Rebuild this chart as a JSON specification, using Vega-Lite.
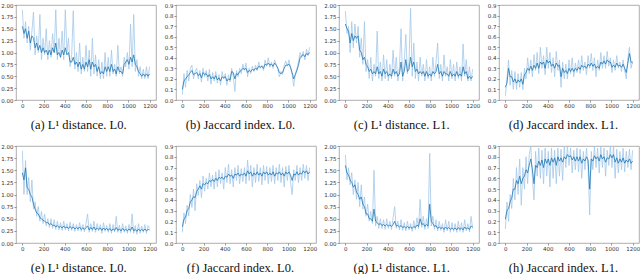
{
"$schema":"https://vega.github.io/schema/vega-lite/v6.json",
"padding":{"left":0,"top":2,"right":1,"bottom":0},
"background":"white",
"spacing":11,
"config":{
 "view":{"stroke":"#9a9a9a","strokeWidth":0.8},
 "axis":{"grid":false,"domain":false,"labelFont":"DejaVu Sans","labelFontSize":5.5,"labelColor":"#333","tickSize":2,"tickColor":"#555","tickWidth":0.6,"labelPadding":1,"title":null},
 "axisX":{"format":"d"},
 "title":{"font":"Liberation Serif","fontSize":12.5,"fontWeight":"normal","orient":"bottom","color":"#111","offset":10,"frame":"bounds","anchor":"middle"},
 "line":{"strokeWidth":0.8,"clip":true},
 "concat":{"spacing":5}
},
"datasets":{
"a":[{"x":0,"r":1.9,"s":1.55},{"x":15,"r":1.3,"s":1.4},{"x":30,"r":1.65,"s":1.5},{"x":45,"r":1.2,"s":1.3},{"x":60,"r":1.55,"s":1.45},{"x":75,"r":1.05,"s":1.2},{"x":90,"r":1.45,"s":1.35},{"x":105,"r":1.85,"s":1.3},{"x":120,"r":0.95,"s":1.1},{"x":135,"r":1.35,"s":1.2},{"x":150,"r":1.0,"s":1.05},{"x":165,"r":1.8,"s":1.15},{"x":180,"r":0.85,"s":1.0},{"x":195,"r":1.3,"s":1.1},{"x":210,"r":0.95,"s":1.0},{"x":225,"r":1.5,"s":1.05},{"x":240,"r":0.85,"s":0.95},{"x":255,"r":1.25,"s":1.05},{"x":270,"r":0.9,"s":0.95},{"x":285,"r":1.4,"s":1.1},{"x":300,"r":1.0,"s":1.0},{"x":315,"r":1.9,"s":1.2},{"x":330,"r":0.85,"s":0.95},{"x":345,"r":1.3,"s":1.0},{"x":360,"r":0.9,"s":0.9},{"x":375,"r":1.45,"s":1.05},{"x":390,"r":0.85,"s":0.95},{"x":405,"r":1.9,"s":1.1},{"x":420,"r":1.0,"s":0.95},{"x":435,"r":1.3,"s":1.0},{"x":450,"r":0.7,"s":0.8},{"x":465,"r":0.95,"s":0.8},{"x":480,"r":1.88,"s":0.9},{"x":495,"r":0.65,"s":0.75},{"x":510,"r":1.0,"s":0.8},{"x":525,"r":0.6,"s":0.7},{"x":540,"r":1.2,"s":0.8},{"x":555,"r":0.55,"s":0.65},{"x":570,"r":0.9,"s":0.75},{"x":585,"r":0.6,"s":0.65},{"x":600,"r":1.15,"s":0.8},{"x":615,"r":0.6,"s":0.7},{"x":630,"r":1.05,"s":0.85},{"x":645,"r":0.5,"s":0.65},{"x":660,"r":1.3,"s":0.8},{"x":675,"r":0.55,"s":0.7},{"x":690,"r":0.95,"s":0.75},{"x":705,"r":0.5,"s":0.6},{"x":720,"r":0.85,"s":0.7},{"x":735,"r":0.45,"s":0.55},{"x":750,"r":0.8,"s":0.6},{"x":765,"r":0.45,"s":0.55},{"x":780,"r":1.0,"s":0.7},{"x":795,"r":0.5,"s":0.6},{"x":810,"r":0.9,"s":0.7},{"x":825,"r":0.5,"s":0.6},{"x":840,"r":1.05,"s":0.75},{"x":855,"r":0.55,"s":0.6},{"x":870,"r":0.75,"s":0.65},{"x":885,"r":0.5,"s":0.55},{"x":900,"r":1.15,"s":0.7},{"x":915,"r":0.55,"s":0.6},{"x":930,"r":0.7,"s":0.6},{"x":945,"r":0.5,"s":0.55},{"x":960,"r":0.9,"s":0.75},{"x":975,"r":0.7,"s":0.8},{"x":990,"r":1.0,"s":0.85},{"x":1005,"r":0.65,"s":0.75},{"x":1020,"r":1.6,"s":0.9},{"x":1035,"r":0.7,"s":0.8},{"x":1050,"r":1.8,"s":0.95},{"x":1065,"r":0.6,"s":0.75},{"x":1080,"r":0.85,"s":0.7},{"x":1095,"r":0.5,"s":0.6},{"x":1110,"r":0.7,"s":0.55},{"x":1125,"r":0.45,"s":0.5},{"x":1140,"r":0.65,"s":0.55},{"x":1155,"r":0.45,"s":0.5},{"x":1170,"r":0.7,"s":0.55},{"x":1185,"r":0.45,"s":0.5},{"x":1200,"r":0.7,"s":0.55}],
"b":[{"x":0,"r":0.05,"s":0.1},{"x":15,"r":0.25,"s":0.18},{"x":30,"r":0.12,"s":0.2},{"x":45,"r":0.28,"s":0.22},{"x":60,"r":0.18,"s":0.24},{"x":75,"r":0.3,"s":0.26},{"x":90,"r":0.33,"s":0.28},{"x":105,"r":0.2,"s":0.24},{"x":120,"r":0.27,"s":0.25},{"x":135,"r":0.3,"s":0.26},{"x":150,"r":0.2,"s":0.23},{"x":165,"r":0.28,"s":0.25},{"x":180,"r":0.17,"s":0.21},{"x":195,"r":0.3,"s":0.26},{"x":210,"r":0.22,"s":0.24},{"x":225,"r":0.28,"s":0.25},{"x":240,"r":0.18,"s":0.22},{"x":255,"r":0.29,"s":0.24},{"x":270,"r":0.15,"s":0.2},{"x":285,"r":0.26,"s":0.22},{"x":300,"r":0.18,"s":0.2},{"x":315,"r":0.27,"s":0.23},{"x":330,"r":0.16,"s":0.19},{"x":345,"r":0.24,"s":0.21},{"x":360,"r":0.14,"s":0.18},{"x":375,"r":0.27,"s":0.22},{"x":390,"r":0.2,"s":0.21},{"x":405,"r":0.25,"s":0.22},{"x":420,"r":0.14,"s":0.18},{"x":435,"r":0.24,"s":0.2},{"x":450,"r":0.17,"s":0.19},{"x":465,"r":0.3,"s":0.27},{"x":480,"r":0.22,"s":0.26},{"x":495,"r":0.08,"s":0.2},{"x":510,"r":0.28,"s":0.25},{"x":525,"r":0.22,"s":0.24},{"x":540,"r":0.3,"s":0.27},{"x":555,"r":0.25,"s":0.28},{"x":570,"r":0.34,"s":0.3},{"x":585,"r":0.28,"s":0.29},{"x":600,"r":0.35,"s":0.3},{"x":615,"r":0.22,"s":0.26},{"x":630,"r":0.3,"s":0.28},{"x":645,"r":0.25,"s":0.27},{"x":660,"r":0.32,"s":0.29},{"x":675,"r":0.27,"s":0.28},{"x":690,"r":0.33,"s":0.3},{"x":705,"r":0.28,"s":0.29},{"x":720,"r":0.36,"s":0.32},{"x":735,"r":0.3,"s":0.31},{"x":750,"r":0.33,"s":0.32},{"x":765,"r":0.28,"s":0.3},{"x":780,"r":0.38,"s":0.34},{"x":795,"r":0.32,"s":0.33},{"x":810,"r":0.4,"s":0.35},{"x":825,"r":0.31,"s":0.33},{"x":840,"r":0.36,"s":0.34},{"x":855,"r":0.3,"s":0.32},{"x":870,"r":0.38,"s":0.35},{"x":885,"r":0.33,"s":0.33},{"x":900,"r":0.3,"s":0.3},{"x":915,"r":0.22,"s":0.26},{"x":930,"r":0.27,"s":0.25},{"x":945,"r":0.24,"s":0.26},{"x":960,"r":0.33,"s":0.3},{"x":975,"r":0.37,"s":0.33},{"x":990,"r":0.32,"s":0.33},{"x":1005,"r":0.38,"s":0.34},{"x":1020,"r":0.3,"s":0.31},{"x":1035,"r":0.24,"s":0.26},{"x":1050,"r":0.13,"s":0.2},{"x":1065,"r":0.25,"s":0.24},{"x":1080,"r":0.3,"s":0.28},{"x":1095,"r":0.36,"s":0.33},{"x":1110,"r":0.45,"s":0.4},{"x":1125,"r":0.4,"s":0.42},{"x":1140,"r":0.46,"s":0.43},{"x":1155,"r":0.38,"s":0.41},{"x":1170,"r":0.48,"s":0.44},{"x":1185,"r":0.42,"s":0.43},{"x":1200,"r":0.5,"s":0.45}],
"c":[{"x":0,"r":1.87,"s":1.6},{"x":15,"r":1.4,"s":1.5},{"x":30,"r":1.55,"s":1.45},{"x":45,"r":1.0,"s":1.2},{"x":60,"r":1.65,"s":1.4},{"x":75,"r":1.1,"s":1.25},{"x":90,"r":1.6,"s":1.35},{"x":105,"r":1.2,"s":1.3},{"x":120,"r":1.55,"s":1.35},{"x":135,"r":0.9,"s":1.05},{"x":150,"r":1.3,"s":1.0},{"x":165,"r":0.75,"s":0.85},{"x":180,"r":1.65,"s":0.9},{"x":195,"r":0.6,"s":0.75},{"x":210,"r":0.85,"s":0.7},{"x":225,"r":0.45,"s":0.6},{"x":240,"r":0.9,"s":0.65},{"x":255,"r":0.4,"s":0.55},{"x":270,"r":0.75,"s":0.6},{"x":285,"r":0.5,"s":0.55},{"x":300,"r":1.45,"s":0.7},{"x":315,"r":0.45,"s":0.55},{"x":330,"r":0.8,"s":0.6},{"x":345,"r":0.4,"s":0.5},{"x":360,"r":0.95,"s":0.65},{"x":375,"r":0.45,"s":0.55},{"x":390,"r":0.85,"s":0.6},{"x":405,"r":0.4,"s":0.5},{"x":420,"r":0.75,"s":0.55},{"x":435,"r":0.45,"s":0.5},{"x":450,"r":1.05,"s":0.65},{"x":465,"r":0.5,"s":0.55},{"x":480,"r":0.9,"s":0.6},{"x":495,"r":0.4,"s":0.5},{"x":510,"r":0.7,"s":0.55},{"x":525,"r":1.5,"s":0.8},{"x":540,"r":0.4,"s":0.5},{"x":555,"r":0.8,"s":0.6},{"x":570,"r":1.38,"s":0.85},{"x":585,"r":0.55,"s":0.6},{"x":600,"r":0.8,"s":0.65},{"x":615,"r":1.93,"s":0.9},{"x":630,"r":0.5,"s":0.7},{"x":645,"r":1.2,"s":0.8},{"x":660,"r":0.45,"s":0.6},{"x":675,"r":0.8,"s":0.65},{"x":690,"r":0.4,"s":0.55},{"x":705,"r":0.9,"s":0.6},{"x":720,"r":0.5,"s":0.55},{"x":735,"r":0.75,"s":0.6},{"x":750,"r":0.4,"s":0.5},{"x":765,"r":0.85,"s":0.6},{"x":780,"r":0.45,"s":0.5},{"x":795,"r":0.7,"s":0.55},{"x":810,"r":0.4,"s":0.5},{"x":825,"r":0.9,"s":0.6},{"x":840,"r":0.5,"s":0.55},{"x":855,"r":0.8,"s":0.6},{"x":870,"r":1.2,"s":0.75},{"x":885,"r":0.45,"s":0.55},{"x":900,"r":0.75,"s":0.6},{"x":915,"r":0.4,"s":0.5},{"x":930,"r":0.95,"s":0.6},{"x":945,"r":0.5,"s":0.55},{"x":960,"r":0.7,"s":0.55},{"x":975,"r":0.4,"s":0.5},{"x":990,"r":0.85,"s":0.6},{"x":1005,"r":0.45,"s":0.5},{"x":1020,"r":0.75,"s":0.55},{"x":1035,"r":0.4,"s":0.5},{"x":1050,"r":0.8,"s":0.6},{"x":1065,"r":0.45,"s":0.5},{"x":1080,"r":0.7,"s":0.55},{"x":1095,"r":0.4,"s":0.5},{"x":1110,"r":1.18,"s":0.7},{"x":1125,"r":0.5,"s":0.55},{"x":1140,"r":0.85,"s":0.6},{"x":1155,"r":0.4,"s":0.45},{"x":1170,"r":0.7,"s":0.5},{"x":1185,"r":0.4,"s":0.45},{"x":1200,"r":0.65,"s":0.5}],
"d":[{"x":0,"r":0.04,"s":0.12},{"x":15,"r":0.2,"s":0.16},{"x":30,"r":0.38,"s":0.3},{"x":45,"r":0.14,"s":0.22},{"x":60,"r":0.28,"s":0.22},{"x":75,"r":0.1,"s":0.17},{"x":90,"r":0.27,"s":0.2},{"x":105,"r":0.1,"s":0.16},{"x":120,"r":0.25,"s":0.19},{"x":135,"r":0.12,"s":0.17},{"x":150,"r":0.26,"s":0.2},{"x":165,"r":0.1,"s":0.15},{"x":180,"r":0.3,"s":0.24},{"x":195,"r":0.2,"s":0.26},{"x":210,"r":0.4,"s":0.3},{"x":225,"r":0.25,"s":0.28},{"x":240,"r":0.38,"s":0.32},{"x":255,"r":0.22,"s":0.28},{"x":270,"r":0.43,"s":0.33},{"x":285,"r":0.28,"s":0.3},{"x":300,"r":0.45,"s":0.35},{"x":315,"r":0.25,"s":0.3},{"x":330,"r":0.5,"s":0.36},{"x":345,"r":0.3,"s":0.34},{"x":360,"r":0.42,"s":0.36},{"x":375,"r":0.24,"s":0.3},{"x":390,"r":0.5,"s":0.38},{"x":405,"r":0.3,"s":0.35},{"x":420,"r":0.45,"s":0.37},{"x":435,"r":0.26,"s":0.32},{"x":450,"r":0.4,"s":0.34},{"x":465,"r":0.22,"s":0.3},{"x":480,"r":0.46,"s":0.35},{"x":495,"r":0.28,"s":0.32},{"x":510,"r":0.38,"s":0.33},{"x":525,"r":0.12,"s":0.22},{"x":540,"r":0.36,"s":0.3},{"x":555,"r":0.2,"s":0.26},{"x":570,"r":0.34,"s":0.28},{"x":585,"r":0.2,"s":0.25},{"x":600,"r":0.38,"s":0.3},{"x":615,"r":0.25,"s":0.27},{"x":630,"r":0.4,"s":0.3},{"x":645,"r":0.22,"s":0.27},{"x":660,"r":0.35,"s":0.3},{"x":675,"r":0.26,"s":0.28},{"x":690,"r":0.38,"s":0.31},{"x":705,"r":0.25,"s":0.29},{"x":720,"r":0.42,"s":0.33},{"x":735,"r":0.28,"s":0.31},{"x":750,"r":0.36,"s":0.32},{"x":765,"r":0.24,"s":0.3},{"x":780,"r":0.42,"s":0.34},{"x":795,"r":0.3,"s":0.32},{"x":810,"r":0.44,"s":0.35},{"x":825,"r":0.28,"s":0.32},{"x":840,"r":0.4,"s":0.34},{"x":855,"r":0.22,"s":0.3},{"x":870,"r":0.38,"s":0.32},{"x":885,"r":0.28,"s":0.3},{"x":900,"r":0.45,"s":0.36},{"x":915,"r":0.3,"s":0.34},{"x":930,"r":0.42,"s":0.37},{"x":945,"r":0.3,"s":0.34},{"x":960,"r":0.46,"s":0.38},{"x":975,"r":0.32,"s":0.36},{"x":990,"r":0.4,"s":0.36},{"x":1005,"r":0.26,"s":0.31},{"x":1020,"r":0.38,"s":0.33},{"x":1035,"r":0.28,"s":0.31},{"x":1050,"r":0.42,"s":0.35},{"x":1065,"r":0.3,"s":0.32},{"x":1080,"r":0.36,"s":0.33},{"x":1095,"r":0.27,"s":0.31},{"x":1110,"r":0.38,"s":0.34},{"x":1125,"r":0.28,"s":0.3},{"x":1140,"r":0.2,"s":0.26},{"x":1155,"r":0.4,"s":0.35},{"x":1170,"r":0.5,"s":0.44},{"x":1185,"r":0.3,"s":0.36},{"x":1200,"r":0.37,"s":0.35}],
"e":[{"x":0,"r":1.9,"s":1.45},{"x":15,"r":1.0,"s":1.3},{"x":30,"r":1.7,"s":1.55},{"x":45,"r":1.0,"s":1.15},{"x":60,"r":1.35,"s":1.1},{"x":75,"r":0.85,"s":1.0},{"x":90,"r":1.3,"s":0.95},{"x":105,"r":0.7,"s":0.8},{"x":120,"r":0.85,"s":0.7},{"x":135,"r":0.55,"s":0.62},{"x":150,"r":0.75,"s":0.6},{"x":165,"r":0.45,"s":0.52},{"x":180,"r":0.65,"s":0.5},{"x":195,"r":0.4,"s":0.47},{"x":210,"r":0.6,"s":0.45},{"x":225,"r":0.35,"s":0.42},{"x":240,"r":0.5,"s":0.42},{"x":255,"r":0.32,"s":0.38},{"x":270,"r":0.5,"s":0.4},{"x":285,"r":0.3,"s":0.36},{"x":300,"r":0.48,"s":0.37},{"x":315,"r":0.28,"s":0.33},{"x":330,"r":0.45,"s":0.36},{"x":345,"r":0.27,"s":0.32},{"x":360,"r":0.42,"s":0.34},{"x":375,"r":0.26,"s":0.31},{"x":390,"r":0.45,"s":0.35},{"x":405,"r":0.27,"s":0.31},{"x":420,"r":0.4,"s":0.33},{"x":435,"r":0.25,"s":0.3},{"x":450,"r":0.43,"s":0.34},{"x":465,"r":0.26,"s":0.3},{"x":480,"r":0.4,"s":0.33},{"x":495,"r":0.24,"s":0.29},{"x":510,"r":0.38,"s":0.32},{"x":525,"r":0.25,"s":0.29},{"x":540,"r":0.42,"s":0.33},{"x":555,"r":0.24,"s":0.28},{"x":570,"r":0.38,"s":0.31},{"x":585,"r":0.23,"s":0.28},{"x":600,"r":0.4,"s":0.32},{"x":615,"r":0.6,"s":0.35},{"x":630,"r":0.22,"s":0.27},{"x":645,"r":0.4,"s":0.32},{"x":660,"r":0.24,"s":0.28},{"x":675,"r":0.45,"s":0.33},{"x":690,"r":0.22,"s":0.27},{"x":705,"r":0.4,"s":0.31},{"x":720,"r":0.25,"s":0.28},{"x":735,"r":0.38,"s":0.31},{"x":750,"r":0.2,"s":0.26},{"x":765,"r":0.42,"s":0.31},{"x":780,"r":0.24,"s":0.27},{"x":795,"r":0.36,"s":0.3},{"x":810,"r":0.22,"s":0.26},{"x":825,"r":0.4,"s":0.3},{"x":840,"r":0.2,"s":0.25},{"x":855,"r":0.38,"s":0.29},{"x":870,"r":0.23,"s":0.26},{"x":885,"r":0.55,"s":0.32},{"x":900,"r":0.22,"s":0.26},{"x":915,"r":0.37,"s":0.29},{"x":930,"r":0.2,"s":0.25},{"x":945,"r":0.4,"s":0.3},{"x":960,"r":0.22,"s":0.26},{"x":975,"r":0.35,"s":0.28},{"x":990,"r":0.2,"s":0.25},{"x":1005,"r":0.38,"s":0.29},{"x":1020,"r":0.22,"s":0.26},{"x":1035,"r":0.6,"s":0.33},{"x":1050,"r":0.2,"s":0.25},{"x":1065,"r":0.36,"s":0.28},{"x":1080,"r":0.18,"s":0.24},{"x":1095,"r":0.4,"s":0.29},{"x":1110,"r":0.2,"s":0.25},{"x":1125,"r":0.35,"s":0.28},{"x":1140,"r":0.22,"s":0.25},{"x":1155,"r":0.38,"s":0.29},{"x":1170,"r":0.2,"s":0.25},{"x":1185,"r":0.36,"s":0.28},{"x":1200,"r":0.3,"s":0.27}],
"f":[{"x":0,"r":0.1,"s":0.15},{"x":15,"r":0.28,"s":0.22},{"x":30,"r":0.18,"s":0.24},{"x":45,"r":0.35,"s":0.3},{"x":60,"r":0.25,"s":0.32},{"x":75,"r":0.45,"s":0.38},{"x":90,"r":0.33,"s":0.4},{"x":105,"r":0.5,"s":0.43},{"x":120,"r":0.3,"s":0.42},{"x":135,"r":0.55,"s":0.48},{"x":150,"r":0.44,"s":0.5},{"x":165,"r":0.58,"s":0.53},{"x":180,"r":0.42,"s":0.5},{"x":195,"r":0.62,"s":0.55},{"x":210,"r":0.48,"s":0.54},{"x":225,"r":0.6,"s":0.56},{"x":240,"r":0.5,"s":0.55},{"x":255,"r":0.65,"s":0.58},{"x":270,"r":0.52,"s":0.57},{"x":285,"r":0.63,"s":0.59},{"x":300,"r":0.5,"s":0.57},{"x":315,"r":0.66,"s":0.6},{"x":330,"r":0.52,"s":0.58},{"x":345,"r":0.68,"s":0.61},{"x":360,"r":0.55,"s":0.6},{"x":375,"r":0.65,"s":0.61},{"x":390,"r":0.5,"s":0.59},{"x":405,"r":0.7,"s":0.62},{"x":420,"r":0.56,"s":0.61},{"x":435,"r":0.73,"s":0.64},{"x":450,"r":0.55,"s":0.62},{"x":465,"r":0.68,"s":0.63},{"x":480,"r":0.52,"s":0.6},{"x":495,"r":0.7,"s":0.64},{"x":510,"r":0.58,"s":0.63},{"x":525,"r":0.72,"s":0.65},{"x":540,"r":0.55,"s":0.62},{"x":555,"r":0.69,"s":0.64},{"x":570,"r":0.57,"s":0.63},{"x":585,"r":0.7,"s":0.65},{"x":600,"r":0.55,"s":0.62},{"x":615,"r":0.77,"s":0.67},{"x":630,"r":0.58,"s":0.64},{"x":645,"r":0.72,"s":0.66},{"x":660,"r":0.52,"s":0.62},{"x":675,"r":0.7,"s":0.65},{"x":690,"r":0.56,"s":0.63},{"x":705,"r":0.73,"s":0.66},{"x":720,"r":0.57,"s":0.63},{"x":735,"r":0.7,"s":0.65},{"x":750,"r":0.54,"s":0.62},{"x":765,"r":0.72,"s":0.66},{"x":780,"r":0.58,"s":0.64},{"x":795,"r":0.71,"s":0.66},{"x":810,"r":0.55,"s":0.63},{"x":825,"r":0.7,"s":0.65},{"x":840,"r":0.57,"s":0.63},{"x":855,"r":0.72,"s":0.66},{"x":870,"r":0.55,"s":0.62},{"x":885,"r":0.7,"s":0.65},{"x":900,"r":0.58,"s":0.64},{"x":915,"r":0.73,"s":0.66},{"x":930,"r":0.56,"s":0.63},{"x":945,"r":0.7,"s":0.65},{"x":960,"r":0.52,"s":0.62},{"x":975,"r":0.71,"s":0.66},{"x":990,"r":0.58,"s":0.64},{"x":1005,"r":0.72,"s":0.66},{"x":1020,"r":0.56,"s":0.63},{"x":1035,"r":0.45,"s":0.58},{"x":1050,"r":0.68,"s":0.64},{"x":1065,"r":0.58,"s":0.63},{"x":1080,"r":0.72,"s":0.66},{"x":1095,"r":0.56,"s":0.63},{"x":1110,"r":0.7,"s":0.65},{"x":1125,"r":0.58,"s":0.64},{"x":1140,"r":0.73,"s":0.67},{"x":1155,"r":0.6,"s":0.65},{"x":1170,"r":0.72,"s":0.67},{"x":1185,"r":0.58,"s":0.64},{"x":1200,"r":0.7,"s":0.66}],
"g":[{"x":0,"r":1.82,"s":1.6},{"x":15,"r":1.3,"s":1.45},{"x":30,"r":1.55,"s":1.4},{"x":45,"r":1.2,"s":1.3},{"x":60,"r":1.45,"s":1.25},{"x":75,"r":1.0,"s":1.15},{"x":90,"r":1.3,"s":1.2},{"x":105,"r":0.9,"s":1.05},{"x":120,"r":1.25,"s":1.0},{"x":135,"r":0.75,"s":0.9},{"x":150,"r":1.2,"s":0.95},{"x":165,"r":0.7,"s":0.8},{"x":180,"r":0.95,"s":0.75},{"x":195,"r":0.55,"s":0.6},{"x":210,"r":0.8,"s":0.6},{"x":225,"r":0.45,"s":0.5},{"x":240,"r":0.65,"s":0.5},{"x":255,"r":0.4,"s":0.45},{"x":270,"r":1.5,"s":0.7},{"x":285,"r":0.35,"s":0.45},{"x":300,"r":0.55,"s":0.42},{"x":315,"r":0.3,"s":0.38},{"x":330,"r":0.5,"s":0.4},{"x":345,"r":0.3,"s":0.36},{"x":360,"r":0.48,"s":0.38},{"x":375,"r":0.28,"s":0.35},{"x":390,"r":0.5,"s":0.38},{"x":405,"r":0.3,"s":0.35},{"x":420,"r":0.45,"s":0.37},{"x":435,"r":0.28,"s":0.34},{"x":450,"r":0.52,"s":0.38},{"x":465,"r":0.75,"s":0.45},{"x":480,"r":0.3,"s":0.35},{"x":495,"r":0.45,"s":0.36},{"x":510,"r":0.27,"s":0.33},{"x":525,"r":0.48,"s":0.36},{"x":540,"r":0.26,"s":0.32},{"x":555,"r":0.42,"s":0.34},{"x":570,"r":0.25,"s":0.31},{"x":585,"r":0.45,"s":0.34},{"x":600,"r":0.27,"s":0.31},{"x":615,"r":0.4,"s":0.33},{"x":630,"r":0.24,"s":0.3},{"x":645,"r":0.46,"s":0.34},{"x":660,"r":0.28,"s":0.32},{"x":675,"r":0.52,"s":0.37},{"x":690,"r":0.3,"s":0.34},{"x":705,"r":0.9,"s":0.5},{"x":720,"r":0.32,"s":0.38},{"x":735,"r":0.55,"s":0.4},{"x":750,"r":0.28,"s":0.34},{"x":765,"r":0.5,"s":0.38},{"x":780,"r":0.3,"s":0.35},{"x":795,"r":1.85,"s":0.8},{"x":810,"r":0.35,"s":0.45},{"x":825,"r":0.55,"s":0.4},{"x":840,"r":0.28,"s":0.34},{"x":855,"r":0.48,"s":0.36},{"x":870,"r":0.25,"s":0.3},{"x":885,"r":0.45,"s":0.33},{"x":900,"r":0.26,"s":0.3},{"x":915,"r":0.4,"s":0.32},{"x":930,"r":0.22,"s":0.28},{"x":945,"r":0.48,"s":0.33},{"x":960,"r":0.25,"s":0.29},{"x":975,"r":0.45,"s":0.32},{"x":990,"r":0.22,"s":0.28},{"x":1005,"r":0.42,"s":0.31},{"x":1020,"r":0.24,"s":0.28},{"x":1035,"r":0.4,"s":0.31},{"x":1050,"r":0.22,"s":0.27},{"x":1065,"r":0.45,"s":0.32},{"x":1080,"r":0.24,"s":0.28},{"x":1095,"r":0.42,"s":0.31},{"x":1110,"r":0.22,"s":0.27},{"x":1125,"r":0.48,"s":0.33},{"x":1140,"r":0.25,"s":0.29},{"x":1155,"r":0.4,"s":0.31},{"x":1170,"r":0.23,"s":0.28},{"x":1185,"r":0.55,"s":0.35},{"x":1200,"r":0.3,"s":0.33}],
"h":[{"x":0,"r":0.13,"s":0.22},{"x":15,"r":0.38,"s":0.3},{"x":30,"r":0.2,"s":0.32},{"x":45,"r":0.45,"s":0.38},{"x":60,"r":0.32,"s":0.42},{"x":75,"r":0.6,"s":0.5},{"x":90,"r":0.4,"s":0.5},{"x":105,"r":0.7,"s":0.58},{"x":120,"r":0.45,"s":0.55},{"x":135,"r":0.78,"s":0.62},{"x":150,"r":0.35,"s":0.55},{"x":165,"r":0.7,"s":0.6},{"x":180,"r":0.5,"s":0.62},{"x":195,"r":0.8,"s":0.68},{"x":210,"r":0.55,"s":0.65},{"x":225,"r":0.82,"s":0.72},{"x":240,"r":0.9,"s":0.78},{"x":255,"r":0.6,"s":0.68},{"x":270,"r":0.4,"s":0.55},{"x":285,"r":0.85,"s":0.72},{"x":300,"r":0.62,"s":0.7},{"x":315,"r":0.88,"s":0.76},{"x":330,"r":0.6,"s":0.72},{"x":345,"r":0.86,"s":0.77},{"x":360,"r":0.55,"s":0.7},{"x":375,"r":0.88,"s":0.78},{"x":390,"r":0.62,"s":0.74},{"x":405,"r":0.85,"s":0.78},{"x":420,"r":0.52,"s":0.72},{"x":435,"r":0.88,"s":0.79},{"x":450,"r":0.6,"s":0.75},{"x":465,"r":0.86,"s":0.79},{"x":480,"r":0.55,"s":0.72},{"x":495,"r":0.88,"s":0.8},{"x":510,"r":0.62,"s":0.76},{"x":525,"r":0.87,"s":0.79},{"x":540,"r":0.58,"s":0.75},{"x":555,"r":0.9,"s":0.8},{"x":570,"r":0.7,"s":0.78},{"x":585,"r":0.9,"s":0.82},{"x":600,"r":0.72,"s":0.8},{"x":615,"r":0.88,"s":0.81},{"x":630,"r":0.65,"s":0.77},{"x":645,"r":0.86,"s":0.8},{"x":660,"r":0.68,"s":0.76},{"x":675,"r":0.88,"s":0.8},{"x":690,"r":0.66,"s":0.76},{"x":705,"r":0.87,"s":0.8},{"x":720,"r":0.6,"s":0.74},{"x":735,"r":0.85,"s":0.78},{"x":750,"r":0.68,"s":0.76},{"x":765,"r":0.88,"s":0.8},{"x":780,"r":0.7,"s":0.77},{"x":795,"r":0.26,"s":0.5},{"x":810,"r":0.85,"s":0.78},{"x":825,"r":0.68,"s":0.76},{"x":840,"r":0.9,"s":0.81},{"x":855,"r":0.7,"s":0.78},{"x":870,"r":0.88,"s":0.8},{"x":885,"r":0.65,"s":0.76},{"x":900,"r":0.9,"s":0.82},{"x":915,"r":0.7,"s":0.78},{"x":930,"r":0.88,"s":0.8},{"x":945,"r":0.62,"s":0.75},{"x":960,"r":0.86,"s":0.79},{"x":975,"r":0.72,"s":0.78},{"x":990,"r":0.9,"s":0.82},{"x":1005,"r":0.7,"s":0.79},{"x":1020,"r":0.9,"s":0.82},{"x":1035,"r":0.6,"s":0.75},{"x":1050,"r":0.87,"s":0.79},{"x":1065,"r":0.65,"s":0.74},{"x":1080,"r":0.85,"s":0.78},{"x":1095,"r":0.68,"s":0.75},{"x":1110,"r":0.88,"s":0.79},{"x":1125,"r":0.66,"s":0.74},{"x":1140,"r":0.85,"s":0.77},{"x":1155,"r":0.7,"s":0.75},{"x":1170,"r":0.87,"s":0.78},{"x":1185,"r":0.68,"s":0.74},{"x":1200,"r":0.86,"s":0.76}]
},
"vconcat":[
{"hconcat":[
{"title":"(a) L¹ distance. L0.","width":140,"height":95,"data":{"name":"a"},
 "encoding":{"x":{"field":"x","type":"quantitative","scale":{"domain":[-60,1260],"nice":false,"zero":false},"axis":{"values":[0,200,400,600,800,1000,1200]}},"y":{"field":"r","type":"quantitative","scale":{"domain":[0,2],"nice":false},"axis":{"values":[0,0.25,0.5,0.75,1,1.25,1.5,1.75,2],"format":".2f"}}},
 "layer":[{"mark":{"type":"line","color":"#a3c8e8"}},{"mark":{"type":"line","color":"#1f77b4"},"encoding":{"y":{"field":"s","type":"quantitative"}}}]},
{"title":"(b) Jaccard index. L0.","width":140,"height":95,"data":{"name":"b"},
 "encoding":{"x":{"field":"x","type":"quantitative","scale":{"domain":[-60,1260],"nice":false,"zero":false},"axis":{"values":[0,200,400,600,800,1000,1200]}},"y":{"field":"r","type":"quantitative","scale":{"domain":[0,0.9],"nice":false},"axis":{"values":[0,0.1,0.2,0.3,0.4,0.5,0.6,0.7,0.8,0.9],"format":".1f"}}},
 "layer":[{"mark":{"type":"line","color":"#a3c8e8"}},{"mark":{"type":"line","color":"#1f77b4"},"encoding":{"y":{"field":"s","type":"quantitative"}}}]},
{"title":"(c) L¹ distance. L1.","width":140,"height":95,"data":{"name":"c"},
 "encoding":{"x":{"field":"x","type":"quantitative","scale":{"domain":[-60,1260],"nice":false,"zero":false},"axis":{"values":[0,200,400,600,800,1000,1200]}},"y":{"field":"r","type":"quantitative","scale":{"domain":[0,2],"nice":false},"axis":{"values":[0,0.25,0.5,0.75,1,1.25,1.5,1.75,2],"format":".2f"}}},
 "layer":[{"mark":{"type":"line","color":"#a3c8e8"}},{"mark":{"type":"line","color":"#1f77b4"},"encoding":{"y":{"field":"s","type":"quantitative"}}}]},
{"title":"(d) Jaccard index. L1.","width":140,"height":95,"data":{"name":"d"},
 "encoding":{"x":{"field":"x","type":"quantitative","scale":{"domain":[-60,1260],"nice":false,"zero":false},"axis":{"values":[0,200,400,600,800,1000,1200]}},"y":{"field":"r","type":"quantitative","scale":{"domain":[0,0.9],"nice":false},"axis":{"values":[0,0.1,0.2,0.3,0.4,0.5,0.6,0.7,0.8,0.9],"format":".1f"}}},
 "layer":[{"mark":{"type":"line","color":"#a3c8e8"}},{"mark":{"type":"line","color":"#1f77b4"},"encoding":{"y":{"field":"s","type":"quantitative"}}}]}
]},
{"hconcat":[
{"title":"(e) L¹ distance. L0.","width":140,"height":97,"data":{"name":"e"},
 "encoding":{"x":{"field":"x","type":"quantitative","scale":{"domain":[-60,1260],"nice":false,"zero":false},"axis":{"values":[0,200,400,600,800,1000,1200]}},"y":{"field":"r","type":"quantitative","scale":{"domain":[0,2],"nice":false},"axis":{"values":[0,0.25,0.5,0.75,1,1.25,1.5,1.75,2],"format":".2f"}}},
 "layer":[{"mark":{"type":"line","color":"#a3c8e8"}},{"mark":{"type":"line","color":"#1f77b4"},"encoding":{"y":{"field":"s","type":"quantitative"}}}]},
{"title":"(f) Jaccard index. L0.","width":140,"height":97,"data":{"name":"f"},
 "encoding":{"x":{"field":"x","type":"quantitative","scale":{"domain":[-60,1260],"nice":false,"zero":false},"axis":{"values":[0,200,400,600,800,1000,1200]}},"y":{"field":"r","type":"quantitative","scale":{"domain":[0,0.9],"nice":false},"axis":{"values":[0,0.1,0.2,0.3,0.4,0.5,0.6,0.7,0.8,0.9],"format":".1f"}}},
 "layer":[{"mark":{"type":"line","color":"#a3c8e8"}},{"mark":{"type":"line","color":"#1f77b4"},"encoding":{"y":{"field":"s","type":"quantitative"}}}]},
{"title":"(g) L¹ distance. L1.","width":140,"height":97,"data":{"name":"g"},
 "encoding":{"x":{"field":"x","type":"quantitative","scale":{"domain":[-60,1260],"nice":false,"zero":false},"axis":{"values":[0,200,400,600,800,1000,1200]}},"y":{"field":"r","type":"quantitative","scale":{"domain":[0,2],"nice":false},"axis":{"values":[0,0.25,0.5,0.75,1,1.25,1.5,1.75,2],"format":".2f"}}},
 "layer":[{"mark":{"type":"line","color":"#a3c8e8"}},{"mark":{"type":"line","color":"#1f77b4"},"encoding":{"y":{"field":"s","type":"quantitative"}}}]},
{"title":"(h) Jaccard index. L1.","width":140,"height":97,"data":{"name":"h"},
 "encoding":{"x":{"field":"x","type":"quantitative","scale":{"domain":[-60,1260],"nice":false,"zero":false},"axis":{"values":[0,200,400,600,800,1000,1200]}},"y":{"field":"r","type":"quantitative","scale":{"domain":[0,0.9],"nice":false},"axis":{"values":[0,0.1,0.2,0.3,0.4,0.5,0.6,0.7,0.8,0.9],"format":".1f"}}},
 "layer":[{"mark":{"type":"line","color":"#a3c8e8"}},{"mark":{"type":"line","color":"#1f77b4"},"encoding":{"y":{"field":"s","type":"quantitative"}}}]}
]}
]
}
